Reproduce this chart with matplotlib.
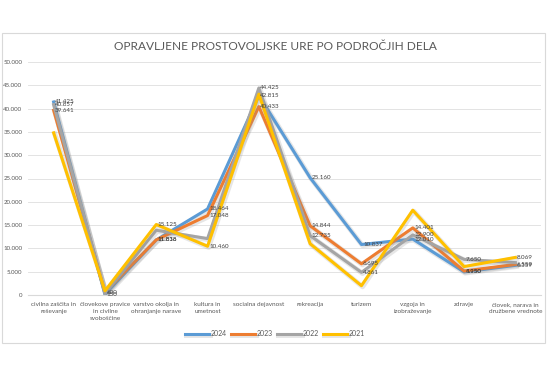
import matplotlib
matplotlib.use("Agg")
import matplotlib.pyplot as plt
import matplotlib.patheffects as pe
from matplotlib.patches import Rectangle

categories = ["civilna zaščita in\nreševanje", "človekove pravice\nin civilne\nsvoboščine",
              "varstvo okolja in\nohranjanje narave", "kultura in\numetnost",
              "socialna dejavnost", "rekreacija", "turizem", "vzgoja in\nizobraževanje",
              "zdravje", "človek, narava in\ndružbene vrednote"]
years = ["2024", "2023", "2022", "2021"]
v2024 = [41425, 150, 11816, 18464, 42815, 25160, 10837, 12010, 4950, 6359]
v2023 = [39641, 600, 11838, 17048, 40433, 14844, 6695, 14401, 5150, 6559]
v2022 = [40857, 300, 13900, 12100, 44425, 12735, 4861, 12900, 7650, 6950]
v2021 = [34800, 900, 15125, 10460, 43100, 11000, 2000, 18200, 6100, 8069]
series = [v2024, v2023, v2022, v2021]
colors = ["#5B9BD5", "#ED7D31", "#A5A5A5", "#FFC000"]
title = "OPRAVLJENE PROSTOVOLJSKE URE PO PODROČJIH DELA"
yticks = list(range(0, 50001, 5000))

# (series index, category index) of points carrying a data label
labelled = [(0, 0), (2, 0), (1, 0), (0, 1), (1, 1), (3, 2), (0, 2), (1, 2),
            (0, 3), (1, 3), (3, 3), (2, 4), (0, 4), (1, 4), (0, 5), (1, 5), (2, 5),
            (0, 6), (1, 6), (2, 6), (1, 7), (2, 7), (0, 7), (2, 8), (0, 8), (1, 8),
            (3, 9), (1, 9), (0, 9)]

def fmt(v):
    return f"{v:,.0f}".replace(",", ".")

plt.rcParams['font.family'] = ['Lato', 'DejaVu Sans']
fig = plt.figure(figsize=(5.5, 3.7), dpi=100)
fig.patches.append(Rectangle((2/550, 1-343/370), 543/550, 310/370, transform=fig.transFigure,
                             fill=False, edgecolor="#D9D9D9", linewidth=0.8))
ax = fig.add_axes([28/550, 1-295/370, 513/550, 233/370])
x = list(range(len(categories)))
for i, (vals, c, yr) in enumerate(zip(series, colors, years)):
    ax.plot(x, vals, color=c, linewidth=2.2, label=yr, zorder=3+i,
            path_effects=[pe.SimpleLineShadow(offset=(0.8, -0.8), shadow_color="#909090", alpha=0.22, linewidth=3.6),
                          pe.Normal()])
for si, ci in labelled:
    v = series[si][ci]
    ax.text(ci + 0.03, v, fmt(v), fontsize=4.5, color="#404040", va="center", ha="left", zorder=10)

ax.set_xlim(-0.5, len(categories) - 0.5)
ax.set_ylim(0, 50000)
ax.set_yticks(yticks)
ax.set_yticklabels([fmt(t) for t in yticks], fontsize=4.4, color="#595959")
ax.set_xticks(x)
ax.set_xticklabels(categories, fontsize=4.6, color="#595959", linespacing=1.5)
ax.tick_params(axis="y", length=0, pad=4)
ax.tick_params(axis="x", length=0, pad=5)
ax.grid(axis="y", color="#E3E3E3", linewidth=0.7)
for s in ["top", "right", "left"]:
    ax.spines[s].set_visible(False)
ax.spines["bottom"].set_color("#D9D9D9")
ax.set_axisbelow(True)
fig.text(0.5, 1-46/370, title, ha="center", va="center", fontsize=8.6, color="#595959")
fig.legend(loc="center", bbox_to_anchor=(0.5, 1-334/370), ncol=4, frameon=False,
           fontsize=5, handlelength=3.5, handletextpad=0.2, columnspacing=0.6,
           labelcolor="#595959")
fig.savefig("out.png", dpi=100, facecolor="white")
